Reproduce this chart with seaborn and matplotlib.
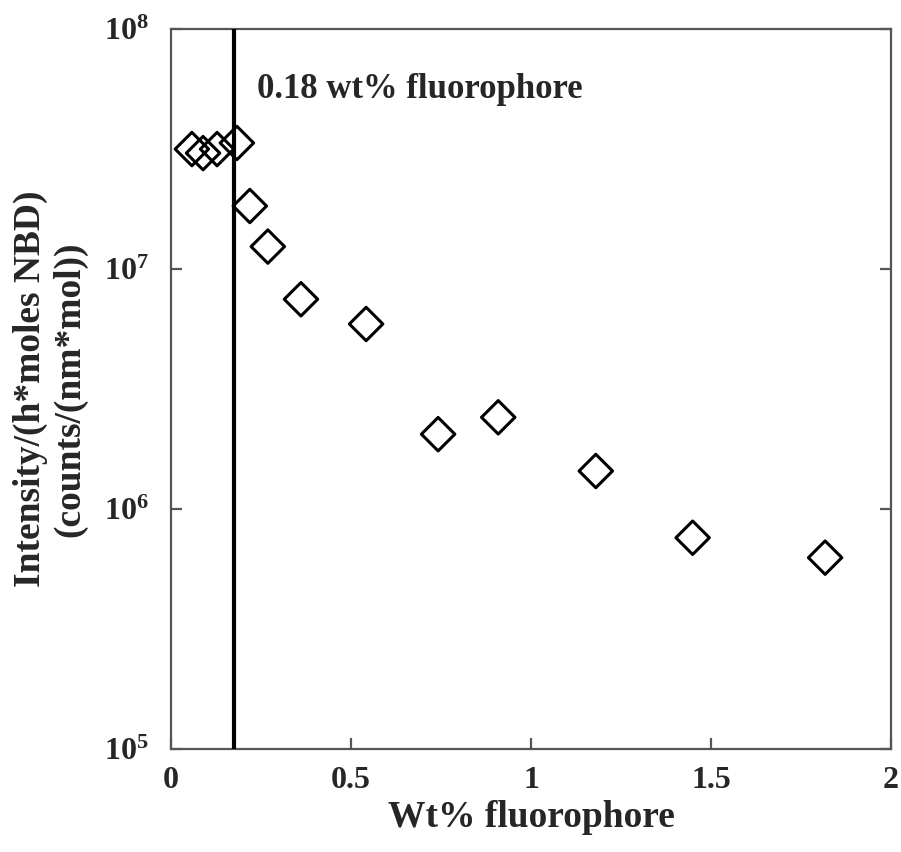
import numpy as np
import pandas as pd
import seaborn as sns
import matplotlib.pyplot as plt
from matplotlib.ticker import FixedLocator, FuncFormatter, NullLocator

# data
wt_pct = [0.058, 0.089, 0.128, 0.183, 0.219, 0.269, 0.361, 0.542, 0.742, 0.909, 1.18, 1.449, 1.817]
intensity = [3.16e7, 3.04e7, 3.16e7, 3.35e7, 1.83e7, 1.24e7, 7.48e6, 5.9e6, 2.05e6, 2.41e6, 1.44e6, 7.59e5, 6.27e5]
threshold = 0.175
x_ticks = [0, 0.5, 1, 1.5, 2]
y_ticks = [1e5, 1e6, 1e7, 1e8]

df = pd.DataFrame({'wt': wt_pct, 'I': intensity})

sns.set_style('ticks')
plt.rcParams['font.family'] = ['Liberation Serif', 'DejaVu Serif']
plt.rcParams['font.weight'] = 'bold'
plt.rcParams['mathtext.fontset'] = 'custom'
plt.rcParams['mathtext.rm'] = 'Liberation Serif:bold'
plt.rcParams['mathtext.bf'] = 'Liberation Serif:bold'

fig = plt.figure(figsize=(9.01, 8.52), dpi=100)
ax = fig.add_axes([171 / 901, 1 - 749 / 852, 720 / 901, 720 / 852])

sns.scatterplot(data=df, x='wt', y='I', ax=ax, marker='D', s=290,
                facecolor='none', edgecolor='black', linewidth=2.2, zorder=3)
ax.axvline(threshold, color='black', lw=3, zorder=4)

ax.set_yscale('log')
ax.set_xlim(0, 2)
ax.set_ylim(1e5, 1e8)
ax.xaxis.set_major_locator(FixedLocator(x_ticks))
ax.xaxis.set_major_formatter(FuncFormatter(lambda v, p: f'{v:g}'))
ax.yaxis.set_major_locator(FixedLocator(y_ticks))
ax.yaxis.set_minor_locator(NullLocator())
ax.yaxis.set_major_formatter(FuncFormatter(lambda v, p: r'$\mathbf{10^{%d}}$' % round(np.log10(v))))

for s in ax.spines.values():
    s.set_color('#555555')
    s.set_linewidth(1.6)
ax.tick_params(direction='in', length=8, width=1.6, color='#555555',
               labelsize=23, right=True, top=False)
ax.tick_params(axis='x', pad=12)
ax.tick_params(axis='y', pad=16)

ax.set_xlabel('Wt% fluorophore', fontsize=27, fontweight='bold', labelpad=4)
ax.set_ylabel('Intensity/(h*moles NBD)\n(counts/(nm*mol))', fontsize=27,
              fontweight='bold', labelpad=12, linespacing=1.15)

ax.text(0.24, 5.6e7, '0.18 wt% fluorophore', fontsize=25, fontweight='bold',
        va='center', ha='left')

fig.savefig('out.png', dpi=100)
